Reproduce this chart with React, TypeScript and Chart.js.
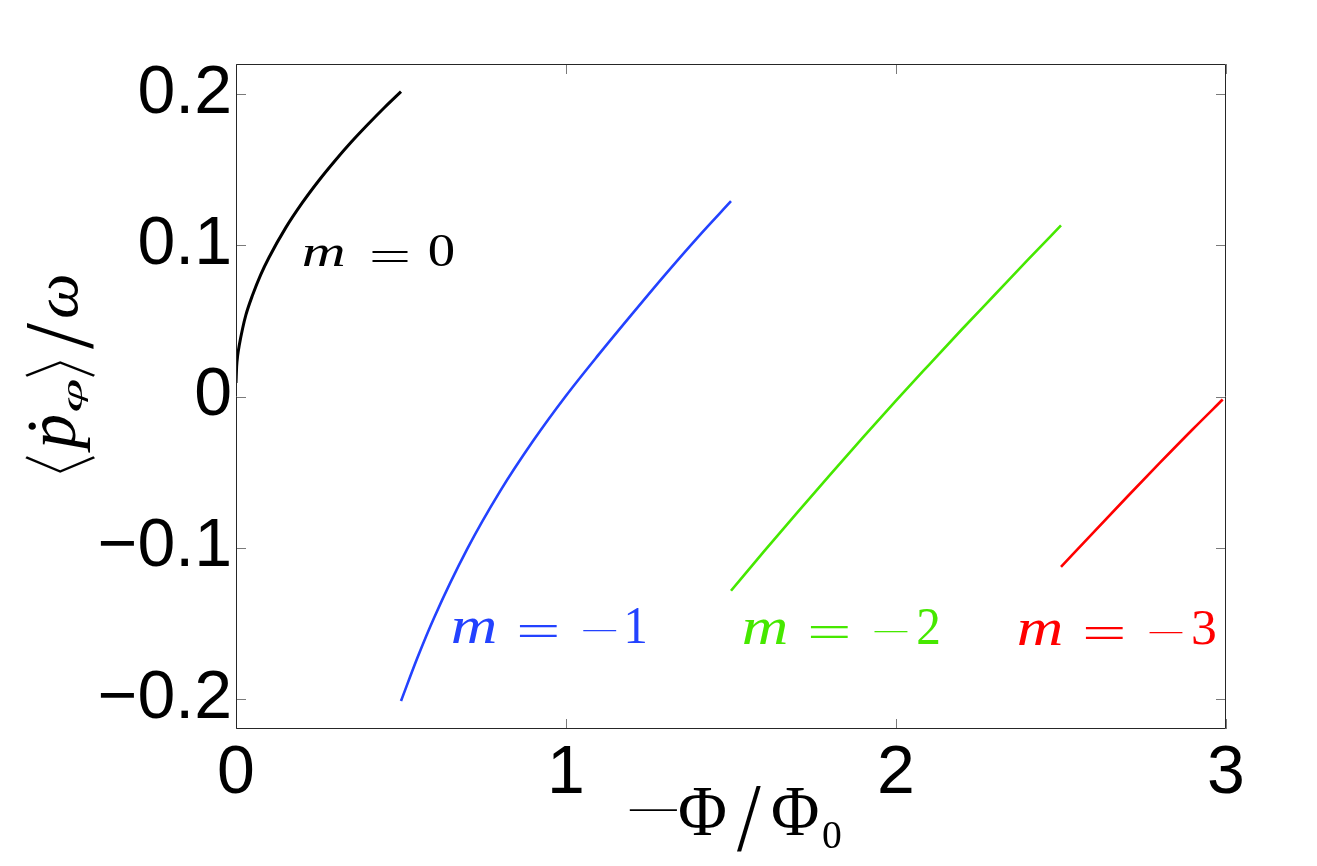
import React, { useEffect, useRef } from "react";
import { Chart, registerables } from "chart.js";

Chart.register(...registerables);

// ---- data ----
const m0X = [0, 0.002, 0.005, 0.01, 0.02, 0.03, 0.05, 0.075, 0.1, 0.15, 0.2, 0.25, 0.3, 0.35, 0.4, 0.45, 0.5];
const m0Y = [0.009, 0.02, 0.027, 0.034, 0.045, 0.054, 0.067, 0.0807, 0.092, 0.1114, 0.1279, 0.1426, 0.156, 0.1685, 0.1801, 0.1912, 0.2017];

const m1X = [0.5, 0.55, 0.6, 0.7, 0.8, 0.9, 1.0, 1.1, 1.2, 1.3, 1.4, 1.5];
const m1Y = [-0.2015, -0.1727, -0.1465, -0.1012, -0.0628, -0.0295, 0.0005, 0.028, 0.0545, 0.0805, 0.1055, 0.1292];

const m2X = [1.5, 1.6, 1.7, 1.8, 1.9, 2.0, 2.1, 2.2, 2.3, 2.4, 2.5];
const m2Y = [-0.1285, -0.1025, -0.077, -0.0518, -0.027, -0.0027, 0.021, 0.0445, 0.0675, 0.0905, 0.1132];

const m3X = [2.5, 2.6, 2.7, 2.8, 2.9, 2.99];
const m3Y = [-0.1128, -0.0895, -0.0665, -0.0438, -0.0215, -0.002];

const seriesNames = ["m = 0", "m = −1", "m = −2", "m = −3"];
const seriesColors = ["#000000", "#2342ff", "#46e800", "#ff0000"];
const seriesDigits = ["0", "1", "2", "3"];
const seriesNegative = [false, true, true, true];

// label anchors (data units): left of "m", baseline
const labelAnchorX = [0.203, 0.6545, 1.5364, 2.3697];
const labelAnchorY = [0.0864, -0.1631, -0.1638, -0.1644];

const xTicks = [0, 1, 2, 3];
const xTickLabels = ["0", "1", "2", "3"];
const yTicks = [-0.2, -0.1, 0, 0.1, 0.2];
const yTickLabels = ["−0.2", "−0.1", "0", "0.1", "0.2"];

const X_MIN = 0;
const X_MAX = 3;
const Y_MIN = -0.22;
const Y_MAX = 0.22;

const SERIF = "'Liberation Serif', 'DejaVu Serif', serif";
const SANS = "'Liberation Sans', Arial, Helvetica, sans-serif";
const BRACKET = "'Noto Sans CJK JP', 'Noto Sans CJK SC', 'DejaVu Sans', sans-serif";

function fitGlyph(
  ctx: CanvasRenderingContext2D,
  text: string,
  font: string,
  color: string,
  l: number,
  r: number,
  t: number,
  b: number
) {
  ctx.save();
  ctx.font = font;
  ctx.fillStyle = color;
  ctx.textAlign = "left";
  ctx.textBaseline = "alphabetic";
  const m = ctx.measureText(text);
  const il = -m.actualBoundingBoxLeft;
  const ir = m.actualBoundingBoxRight;
  const it = -m.actualBoundingBoxAscent;
  const ib = m.actualBoundingBoxDescent;
  const sx = (r - l) / Math.max(ir - il, 0.1);
  const sy = (b - t) / Math.max(ib - it, 0.1);
  ctx.translate(l, t);
  ctx.scale(sx, sy);
  ctx.fillText(text, -il, -it);
  ctx.restore();
}

const framePlugin = {
  id: "matlabFrame",
  afterDatasetsDraw(chart: any) {
    const { ctx, chartArea, scales } = chart;
    const { left, right, top, bottom } = chartArea;
    ctx.save();
    // inward ticks
    ctx.strokeStyle = "#7a7a7a";
    ctx.lineWidth = 1;
    const tl = 10;
    ctx.beginPath();
    yTicks.forEach((v) => {
      const py = Math.round(scales.y.getPixelForValue(v)) + 0.5;
      ctx.moveTo(left, py);
      ctx.lineTo(left + tl, py);
      ctx.moveTo(right, py);
      ctx.lineTo(right - tl, py);
    });
    xTicks.forEach((v) => {
      const px = Math.round(scales.x.getPixelForValue(v)) + 0.5;
      ctx.moveTo(px, bottom);
      ctx.lineTo(px, bottom - tl);
      ctx.moveTo(px, top);
      ctx.lineTo(px, top + tl);
    });
    ctx.stroke();
    // box
    ctx.strokeStyle = "#262626";
    ctx.beginPath();
    ctx.rect(left + 0.5, top + 0.5, right - left - 1, bottom - top - 1);
    ctx.stroke();
    ctx.restore();
  },
  afterDraw(chart: any) {
    const { ctx, scales } = chart;
    // ---- curve labels ----
    for (let i = 0; i < seriesNames.length; i++) {
      const ax = scales.x.getPixelForValue(labelAnchorX[i]);
      const ay = scales.y.getPixelForValue(labelAnchorY[i]);
      const c = seriesColors[i];
      if (!seriesNegative[i]) {
        fitGlyph(ctx, "m", `italic 46px ${SERIF}`, c, ax, ax + 41, ay - 21, ay);
        fitGlyph(ctx, "=", `46px ${SERIF}`, c, ax + 69, ax + 105, ay - 15, ay - 4);
        fitGlyph(ctx, seriesDigits[i], `46px ${SERIF}`, c, ax + 126, ax + 151, ay - 30.5, ay + 0.5);
      } else {
        const dw = seriesDigits[i] === "1" ? 18 : seriesDigits[i] === "2" ? 21 : 22;
        fitGlyph(ctx, "m", `italic 54px ${SERIF}`, c, ax, ax + 43, ay - 25, ay);
        fitGlyph(ctx, "=", `54px ${SERIF}`, c, ax + 67, ax + 105, ay - 18, ay - 6);
        fitGlyph(ctx, "−", `54px ${SERIF}`, c, ax + 130, ax + 164, ay - 13.3, ay - 11.2);
        fitGlyph(ctx, seriesDigits[i], `54px ${SERIF}`, c, ax + 175, ax + 175 + dw, ay - 35, ay);
      }
    }
    // ---- x-axis title: −Φ/Φ0 ----
    const k = "#000000";
    fitGlyph(ctx, "−", `64px ${SERIF}`, k, 629.5, 677, 809, 811.2);
    fitGlyph(ctx, "Φ", `64px ${SERIF}`, k, 679, 725, 788, 835);
    fitGlyph(ctx, "/", `64px ${SERIF}`, k, 737, 761, 787, 852);
    fitGlyph(ctx, "Φ", `64px ${SERIF}`, k, 772, 817.5, 788, 835);
    fitGlyph(ctx, "0", `44px ${SERIF}`, k, 823, 841, 821, 848);

    // ---- y-axis title: ⟨ṗφ⟩/ω (rotated) ----
    ctx.save();
    ctx.translate(79, 473);
    ctx.rotate(-Math.PI / 2);
    fitGlyph(ctx, "〈", `300 70px ${BRACKET}`, k, 0, 17, -54, 16);
    fitGlyph(ctx, "ṗ", `italic 66px ${SERIF}`, k, 20, 57, -49, 11);
    fitGlyph(ctx, "φ", `italic 44px ${SERIF}`, k, 62, 94, -11, 9);
    fitGlyph(ctx, "〉", `300 70px ${BRACKET}`, k, 96, 112, -54, 16);
    fitGlyph(ctx, "/", `66px ${SERIF}`, k, 124, 151, -52, 14);
    fitGlyph(ctx, "ω", `italic 66px ${SERIF}`, k, 156, 197, -31, -1);
    ctx.restore();
  },
};

export default function App() {
  const canvasRef = useRef<HTMLCanvasElement | null>(null);

  useEffect(() => {
    const canvas = canvasRef.current;
    if (!canvas) return;
    const xs = [m0X, m1X, m2X, m3X];
    const ys = [m0Y, m1Y, m2Y, m3Y];
    const datasets = seriesNames.map((name, i) => ({
      label: name,
      data: xs[i].map((x, j) => ({ x, y: ys[i][j] })),
      borderColor: seriesColors[i],
      backgroundColor: seriesColors[i],
      borderWidth: i === 0 ? 3 : 2.6,
      pointRadius: 0,
      fill: false,
      cubicInterpolationMode: "monotone" as const,
    }));

    const chart = new Chart(canvas, {
      type: "line",
      data: { datasets },
      options: {
        animation: false,
        responsive: true,
        maintainAspectRatio: false,
        layout: { padding: { left: 0, top: 64, right: 91, bottom: 0 } },
        plugins: {
          legend: { display: false },
          tooltip: { enabled: false },
          title: { display: false },
        },
        scales: {
          x: {
            type: "linear",
            min: X_MIN,
            max: X_MAX,
            grid: { display: false, drawTicks: false },
            border: { display: false },
            ticks: {
              autoSkip: false,
              maxRotation: 0,
              padding: 4,
              color: "#000000",
              font: { family: SANS, size: 68 },
              callback: (_v: any, idx: number) => xTickLabels[idx],
            },
            afterBuildTicks: (s: any) => {
              s.ticks = xTicks.map((v) => ({ value: v }));
            },
            afterFit: (s: any) => {
              s.height = 137;
            },
          },
          y: {
            type: "linear",
            min: Y_MIN,
            max: Y_MAX,
            grid: { display: false, drawTicks: false },
            border: { display: false },
            ticks: {
              autoSkip: false,
              padding: 4,
              color: "#000000",
              font: { family: SANS, size: 68 },
              callback: (_v: any, idx: number) => yTickLabels[idx],
            },
            afterBuildTicks: (s: any) => {
              s.ticks = yTicks.map((v) => ({ value: v }));
            },
            afterFit: (s: any) => {
              s.width = 236;
            },
          },
        },
      },
      plugins: [framePlugin],
    });
    return () => chart.destroy();
  }, []);

  return (
    <div
      style={{
        position: "absolute",
        left: 0,
        top: 0,
        width: 1317,
        height: 866,
        background: "#ffffff",
      }}
    >
      <canvas ref={canvasRef} style={{ display: "block" }} />
    </div>
  );
}
